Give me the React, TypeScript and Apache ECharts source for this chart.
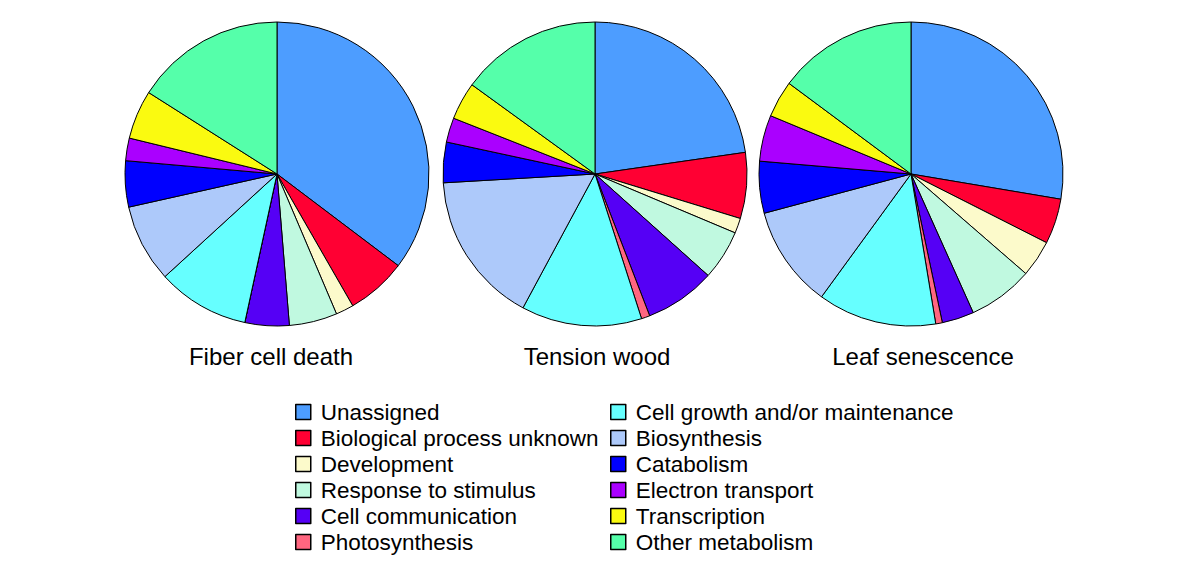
import React, { useEffect, useRef } from "react";
import * as echarts from "echarts";

const categories = [
  "Unassigned",
  "Biological process unknown",
  "Development",
  "Response to stimulus",
  "Cell communication",
  "Photosynthesis",
  "Cell growth and/or maintenance",
  "Biosynthesis",
  "Catabolism",
  "Electron transport",
  "Transcription",
  "Other metabolism",
];

const colors = [
  "#4d9dff",
  "#ff0033",
  "#fcfacb",
  "#c0f9e0",
  "#5500f5",
  "#ff6680",
  "#66ffff",
  "#adc9fa",
  "#0000ff",
  "#aa00ff",
  "#fafa10",
  "#55ffaa",
];

const pieTitles = ["Fiber cell death", "Tension wood", "Leaf senescence"];

const fiberCellDeath = [35.3, 6.4, 1.9, 5.1, 4.7, 0, 9.8, 8.3, 4.9, 2.4, 5.2, 16.0];
const tensionWood = [22.7, 7.0, 1.6, 5.3, 7.5, 0.9, 12.8, 16.2, 4.3, 2.6, 4.0, 15.0];
const leafSenescence = [27.6, 4.8, 3.9, 6.9, 3.4, 0.7, 12.6, 10.8, 5.5, 4.9, 3.9, 14.8];

const pieValues = [fiberCellDeath, tensionWood, leafSenescence];

const FONT = "'Liberation Sans', Arial, Helvetica, sans-serif";

export default function App() {
  const ref = useRef<HTMLDivElement>(null);

  useEffect(() => {
    if (!ref.current) return;
    const chart = echarts.init(ref.current, undefined, { renderer: "svg" });
    const centers = [
      [277, 174],
      [595, 174],
      [911, 174],
    ];
    const titleX = [271, 597, 923];

    const series = pieValues.map((vals, i) => ({
      type: "pie",
      name: pieTitles[i],
      center: centers[i],
      radius: [0, 152],
      startAngle: 90,
      clockwise: true,
      label: { show: false },
      labelLine: { show: false },
      emphasis: { disabled: true },
      itemStyle: { borderColor: "#000", borderWidth: 1 },
      data: categories.map((c, k) => ({
        name: c,
        value: vals[k],
        itemStyle: { color: colors[k] },
      })),
    }));

    const legendCommon = {
      orient: "vertical",
      itemWidth: 15,
      itemHeight: 15,
      itemGap: 0,
      icon: "rect",
      selectedMode: false,
      textStyle: {
        fontFamily: FONT,
        fontSize: 22.5,
        lineHeight: 26,
        color: "#000",
        padding: [0, 0, 0, 5],
      },
      padding: 0,
      itemStyle: { borderColor: "#000", borderWidth: 1.5 },
    };

    chart.setOption({
      animation: false,
      backgroundColor: "#fff",
      color: colors,
      legend: [
        {
          ...legendCommon,
          left: 295,
          top: 399,
          data: categories.slice(0, 6),
        },
        {
          ...legendCommon,
          left: 610,
          top: 399,
          data: categories.slice(6),
        },
      ],
      graphic: pieTitles.map((t, i) => ({
        type: "text",
        x: titleX[i],
        y: 356,
        style: {
          text: t,
          fontFamily: FONT,
          fontSize: 24,
          fill: "#000",
          textAlign: "center",
          textVerticalAlign: "middle",
        },
      })),
      series,
    });

    return () => {
      chart.dispose();
    };
  }, []);

  return (
    <div
      ref={ref}
      style={{ position: "fixed", left: 0, top: 0, width: 1200, height: 576 }}
    />
  );
}
